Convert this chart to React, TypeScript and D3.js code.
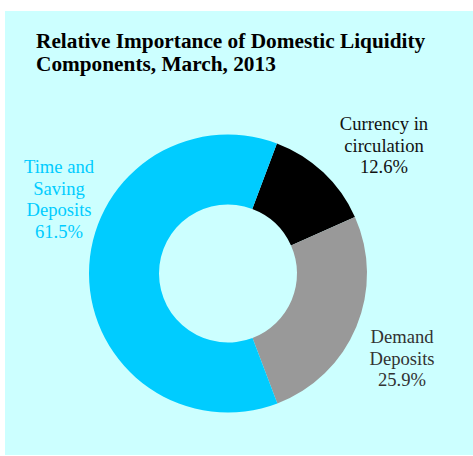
import React from "react";
import * as d3 from "d3";

const categories = ["Currency in circulation", "Demand Deposits", "Time and Saving Deposits"];
const values = [12.6, 25.9, 61.5];
const labelLines = [
  ["Currency in", "circulation", "12.6%"],
  ["Demand", "Deposits", "25.9%"],
  ["Time and", "Saving", "Deposits", "61.5%"],
];
const colors = ["#000000", "#999999", "#00ccff"];
const textColors = ["#111111", "#333333", "#00ccff"];
const labelPos = [
  [384, 130],
  [402, 343],
  [59, 173],
];

export default function App() {
  const W = 473, H = 456;
  const cx = 228, cy = 273.5;
  const outer = 139, inner = 69;
  const start = (20.6 * Math.PI) / 180;
  const pie = d3.pie<number>().sort(null).startAngle(start).endAngle(start + 2 * Math.PI);
  const arcs = pie(values);
  const arc = d3.arc<d3.PieArcDatum<number>>().innerRadius(inner).outerRadius(outer);
  const font = "'Liberation Serif', 'Times New Roman', serif";
  return (
    <svg width={W} height={H} style={{ position: "absolute", left: 0, top: 0 }}>
      <rect x={5} y={11} width={W - 5} height={H - 11 - 1} fill="#ccffff" />
      <text x={36} y={48} fontFamily={font} fontWeight="bold" fontSize={21.3} fill="#000">
        Relative Importance of Domestic Liquidity
      </text>
      <text x={36} y={71} fontFamily={font} fontWeight="bold" fontSize={21.3} fill="#000">
        Components, March, 2013
      </text>
      <g transform={`translate(${cx},${cy})`}>
        {arcs.map((a, i) => (
          <path key={categories[i]} d={arc(a) || ""} fill={colors[i]} />
        ))}
      </g>
      {labelLines.map((lines, i) => (
        <text key={i} fontFamily={font} fontSize={18.6} fill={textColors[i]} textAnchor="middle">
          {lines.map((l, j) => (
            <tspan key={j} x={labelPos[i][0]} y={labelPos[i][1] + j * 21.5}>
              {l}
            </tspan>
          ))}
        </text>
      ))}
    </svg>
  );
}
